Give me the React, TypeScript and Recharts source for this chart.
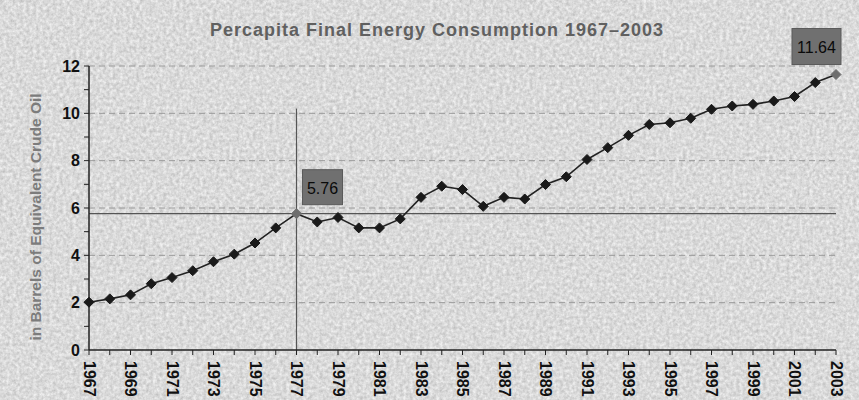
import React from 'react';
import { LineChart, Line, XAxis, YAxis, ReferenceLine } from 'recharts';

const years = ['1967','1968','1969','1970','1971','1972','1973','1974','1975','1976','1977','1978','1979','1980','1981','1982','1983','1984','1985','1986','1987','1988','1989','1990','1991','1992','1993','1994','1995','1996','1997','1998','1999','2000','2001','2002','2003'];
const consumption = [2.02,2.16,2.33,2.8,3.06,3.35,3.73,4.05,4.52,5.16,5.76,5.41,5.6,5.16,5.16,5.54,6.45,6.92,6.78,6.07,6.45,6.38,6.99,7.32,8.05,8.55,9.07,9.53,9.6,9.79,10.17,10.31,10.38,10.52,10.71,11.3,11.64];
const yTicks = [0,1,2,3,4,5,6,7,8,9,10,11,12];
const gridValues = [2,4,6,8,10,12];
const highlightYears = ['1977','2003'];
const title = 'Percapita Final Energy Consumption 1967–2003';
const yLabel = 'in Barrels of Equivalent Crude Oil';

const data = years.map((y, i) => ({ year: y, value: consumption[i] }));
const FONT = '"Liberation Sans", Arial, sans-serif';

const Diamond = (props: any) => {
  const { cx, cy, payload } = props;
  if (cx == null || cy == null) return null;
  const hl = highlightYears.includes(payload.year);
  const r = 5;
  return (
    <path
      d={`M${cx},${cy - r} L${cx + r},${cy} L${cx},${cy + r} L${cx - r},${cy} Z`}
      fill={hl ? '#6e6e6e' : '#1a1a1a'}
      stroke={hl ? '#6e6e6e' : '#1a1a1a'}
      strokeWidth={1}
    />
  );
};

const ValueBox = (props: any) => {
  const { x, y, index, value } = props;
  const yr = years[index];
  let w = 0, h = 0, bx = 0, by = 0;
  if (yr === '1977') {
    w = 40; h = 35; bx = x + 6; by = y - 44;
  } else if (yr === '2003') {
    w = 49; h = 36; bx = x - 44; by = y - 46;
  } else {
    return null;
  }
  return (
    <g>
      <rect x={bx} y={by} width={w} height={h} fill="#707070" stroke="#5a5a5a" />
      <text x={bx + w / 2} y={by + h / 2 + 1} textAnchor="middle" dominantBaseline="central" fontSize={16} fill="#0a0a0a" fontFamily={FONT}>{value.toFixed(2)}</text>
    </g>
  );
};

const XTick = (props: any) => {
  const { x, y, payload, index } = props;
  if (index % 2 !== 0) return null;
  return (
    <text x={x} y={y + 4} transform={`rotate(90 ${x} ${y + 4})`} textAnchor="start" dominantBaseline="central" fontSize={16} fontWeight="bold" fill="#111" fontFamily={FONT}>
      {payload.value}
    </text>
  );
};

const YTick = (props: any) => {
  const { x, y, payload } = props;
  if (payload.value % 2 !== 0) return null;
  return (
    <text x={x - 2} y={y} textAnchor="end" dominantBaseline="central" fontSize={16} fontWeight="bold" fill="#111" fontFamily={FONT}>
      {payload.value}
    </text>
  );
};

export default function App() {
  return (
    <div style={{ position: 'absolute', left: 0, top: 0, width: 859, height: 400, overflow: 'hidden', fontFamily: FONT }}>
      <svg width={859} height={400} style={{ position: 'absolute', left: 0, top: 0 }}>
        <defs>
          <filter id="noise" x="0" y="0" width="100%" height="100%">
            <feTurbulence type="fractalNoise" baseFrequency="0.3" numOctaves={3} seed={4} result="t" />
            <feColorMatrix type="matrix" values="0 0 0 0 0  0 0 0 0 0  0 0 0 0 0  0 0 0 -1.4 1.15" />
          </filter>
        </defs>
        <rect x={0} y={0} width={859} height={400} fill="#f0f0f0" />
        <rect x={0} y={0} width={859} height={400} fill="#000" filter="url(#noise)" opacity={0.2} />
      </svg>
      <div style={{ position: 'absolute', left: 0, top: 20, width: 874, textAlign: 'center', fontSize: 18, fontWeight: 'bold', color: '#606060', letterSpacing: 1 }}>
        {title}
      </div>
      <div style={{ position: 'absolute', left: 0, top: 0 }}>
        <LineChart width={859} height={400} data={data} margin={{ top: 66, right: 23, bottom: 0, left: 29 }}>
          {gridValues.map((v) => (
            <ReferenceLine key={v} y={v} stroke="#9a9a9a" strokeDasharray="6 4" strokeWidth={1} />
          ))}
          <XAxis
            dataKey="year"
            height={50}
            interval={0}
            tick={<XTick />}
            tickSize={5}
            tickLine={{ stroke: '#222' }}
            axisLine={{ stroke: '#222', strokeWidth: 1.5 }}
            padding={{ left: 0, right: 0 }}
          />
          <YAxis
            domain={[0, 12]}
            ticks={yTicks}
            interval={0}
            width={60}
            tick={<YTick />}
            tickSize={5}
            tickLine={{ stroke: '#222' }}
            axisLine={{ stroke: '#222', strokeWidth: 1.5 }}
            label={{
              content: () => (
                <text x={35} y={217} transform="rotate(-90 35 217)" textAnchor="middle" dominantBaseline="central" fontSize={15.5} fontWeight="bold" fill="#7c7c7c" fontFamily={FONT}>
                  {yLabel}
                </text>
              ),
            }}
          />
          <ReferenceLine segment={[{ x: '1977', y: 0 }, { x: '1977', y: 10.2 }]} stroke="#555" strokeWidth={1.2} />
          <ReferenceLine segment={[{ x: '1967', y: 5.76 }, { x: '2003', y: 5.76 }]} stroke="#555" strokeWidth={1.2} />
          <Line
            type="linear"
            dataKey="value"
            stroke="#222"
            strokeWidth={1.6}
            dot={<Diamond />}
            activeDot={false}
            label={<ValueBox />}
            isAnimationActive={false}
          />
        </LineChart>
      </div>
    </div>
  );
}
